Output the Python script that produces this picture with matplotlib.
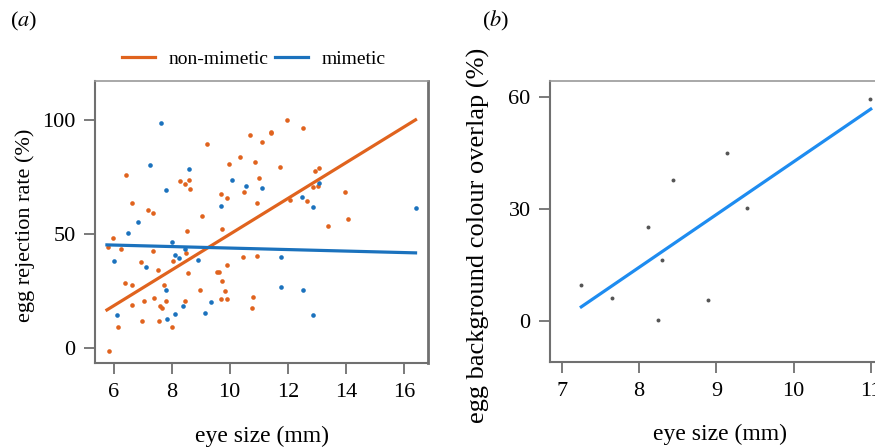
import numpy as np
import matplotlib
matplotlib.use("Agg")
import matplotlib.pyplot as plt

plt.rcParams['font.family'] = ['Liberation Serif', 'DejaVu Serif']
plt.rcParams['mathtext.fontset'] = 'stix'

# panel (a): eye size vs egg rejection rate
nonmim_x = [11.96, 10.69, 11.42, 11.42, 11.12, 9.21, 6.42, 10.36, 9.97, 10.86,
            11.72, 8.30, 8.47, 8.61, 8.63, 11.01, 9.71, 9.92, 10.50, 10.94,
            6.64, 7.20, 7.35, 9.06, 9.75, 12.53, 12.93, 13.08, 12.88, 13.03,
            12.08, 12.65, 13.97, 14.08, 13.38, 5.99, 5.79, 6.25, 8.54, 8.51,
            7.35, 6.95, 8.06, 7.54, 8.55, 9.55, 9.64, 9.92, 10.47, 10.93,
            6.40, 6.65, 7.75, 9.72, 8.98, 9.84, 7.39, 7.05, 7.81, 8.46,
            6.63, 7.60, 7.66, 9.71, 9.90, 10.79, 10.77, 6.99, 7.56, 6.14,
            8.00, 5.83]
nonmim_y = [100.1, 93.6, 94.7, 94.2, 90.5, 89.4, 75.8, 83.7, 80.9, 81.7,
            79.5, 73.3, 71.8, 73.7, 69.8, 74.7, 67.5, 66.0, 68.3, 63.8,
            63.6, 60.4, 59.4, 57.9, 52.3, 96.4, 77.7, 79.1, 70.8, 71.1,
            65.0, 64.7, 68.5, 56.8, 53.7, 48.3, 44.5, 43.5, 51.4, 41.6,
            42.8, 37.8, 38.4, 34.3, 32.9, 33.4, 33.4, 36.4, 40.0, 40.6,
            28.5, 27.6, 27.7, 29.5, 25.7, 25.2, 22.2, 20.7, 20.6, 20.8,
            18.8, 18.5, 17.5, 21.5, 21.5, 22.6, 17.8, 11.8, 12.0, 9.3,
            9.5, -1.3]
mim_x = [7.64, 7.25, 8.61, 7.80, 10.07, 10.57, 11.12, 9.71, 6.85, 13.08,
         12.48, 12.88, 16.40, 6.49, 8.00, 8.13, 8.25, 8.46, 6.03, 7.11,
         8.90, 11.78, 7.81, 11.78, 12.53, 9.37, 8.40, 6.11, 9.16, 8.13,
         7.85, 12.88]
mim_y = [98.6, 80.3, 78.4, 69.3, 73.6, 71.0, 70.2, 62.3, 55.3, 72.3,
         66.1, 61.8, 61.6, 50.6, 46.6, 40.9, 39.7, 43.4, 38.2, 35.7,
         38.8, 39.9, 25.5, 26.9, 25.5, 20.4, 18.7, 14.5, 15.3, 15.0,
         13.0, 14.7]
nonmim_fit_x = [5.77, 16.40]
nonmim_fit_y = [16.8, 100.1]
mim_fit_x = [5.77, 16.40]
mim_fit_y = [45.3, 41.8]

# panel (b): eye size vs background colour overlap
overlap_x = [7.25, 7.65, 8.11, 8.44, 8.30, 8.24, 8.89, 9.14, 9.40, 10.99]
overlap_y = [9.6, 6.2, 25.2, 37.8, 16.3, 0.3, 5.6, 45.0, 30.3, 59.5]
overlap_fit_x = [7.25, 11.0]
overlap_fit_y = [3.8, 56.8]

orange = '#e0631e'
blue = '#1b72bd'
spine_c = '#707070'

fig = plt.figure(figsize=(8.75, 4.47), dpi=100)

ax1 = fig.add_axes([0.1086, 0.1872, 0.3809, 0.6315])
ax1.scatter(nonmim_x, nonmim_y, s=11, color=orange, linewidths=0, zorder=3)
ax1.scatter(mim_x, mim_y, s=11, color=blue, linewidths=0, zorder=3)
ax1.plot(nonmim_fit_x, nonmim_fit_y, color=orange, lw=2.3, label='non-mimetic', zorder=4)
ax1.plot(mim_fit_x, mim_fit_y, color=blue, lw=2.3, label='mimetic', zorder=4)
ax1.set_xlim(5.36, 16.84)
ax1.set_ylim(-6.6, 117.1)
ax1.set_xticks([6, 8, 10, 12, 14, 16])
ax1.set_yticks([0, 50, 100])
ax1.set_xlabel('eye size (mm)', fontsize=17, labelpad=17)
ax1.set_ylabel('egg rejection rate (%)', fontsize=16)
ax1.yaxis.set_label_coords(-0.18, 0.49)

ax2 = fig.add_axes([0.6286, 0.190, 0.3886, 0.6286])
ax2.scatter(overlap_x, overlap_y, s=8, color='#555555', linewidths=0, zorder=3)
ax2.plot(overlap_fit_x, overlap_fit_y, color='#1e8cf0', lw=2.3, zorder=4)
ax2.set_xlim(6.845, 11.25)
ax2.set_ylim(-11.0, 64.3)
ax2.set_xticks([7, 8, 9, 10, 11])
ax2.set_yticks([0, 30, 60])
ax2.set_xlabel('eye size (mm)', fontsize=17, labelpad=17)
ax2.set_ylabel('egg background colour overlap (%)', fontsize=19)
ax2.yaxis.set_label_coords(-0.176, 0.45)

for ax in (ax1, ax2):
    ax.tick_params(direction='out', length=8, width=1.3, color=spine_c,
                   labelsize=16, pad=6)
    for side in ('left', 'bottom', 'right'):
        ax.spines[side].set_color(spine_c)
        ax.spines[side].set_linewidth(1.5)
    ax.spines['top'].set_color('#9a9a9a')
    ax.spines['top'].set_linewidth(1.2)

ax1.spines['right'].set_linewidth(2.0)

fig.legend(loc='center', bbox_to_anchor=(0.29, 0.868), ncol=2, frameon=False,
           fontsize=14, handlelength=1.7, handletextpad=0.7, columnspacing=0.35)

fig.text(0.011, 0.952, r'($\it{a}$)', fontsize=16, va='center')
fig.text(0.551, 0.952, r'($\it{b}$)', fontsize=16, va='center')

plt.savefig('out.png', dpi=100)
